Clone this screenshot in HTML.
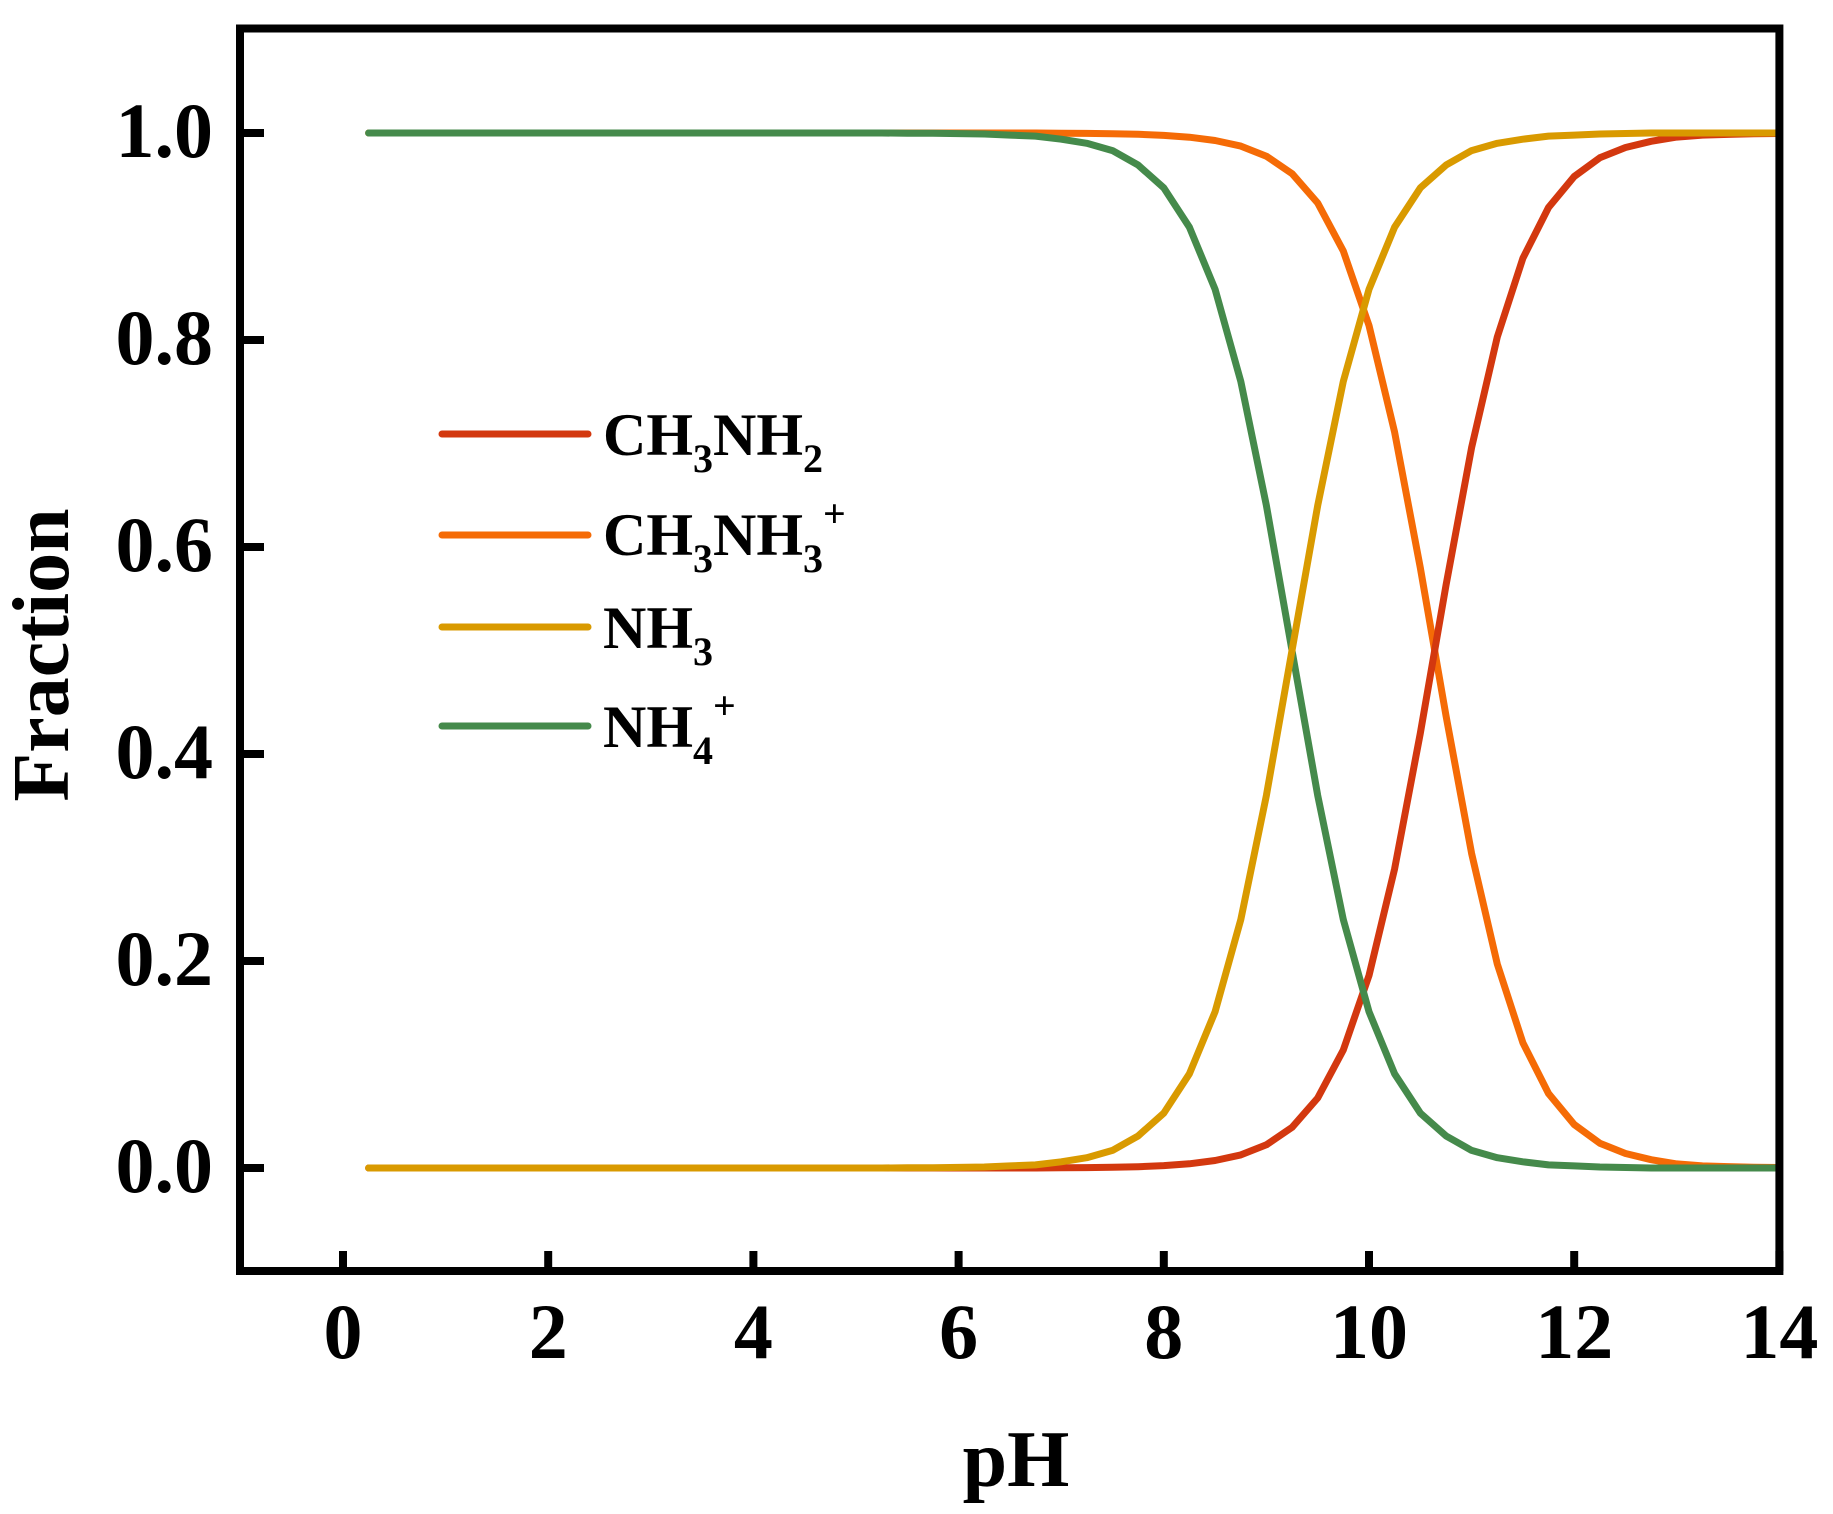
<!DOCTYPE html>
<html><head><meta charset="utf-8"><style>
html,body{margin:0;padding:0;background:#fff}
svg{display:block}
text{font-family:"Liberation Serif","Times New Roman",serif;font-weight:bold;fill:#000}
</style></head><body>
<svg id="chart" width="1833" height="1514" viewBox="0 0 1833 1514" xmlns="http://www.w3.org/2000/svg">
<g id="series"></g>
<g id="axes"></g>
<g id="legend">
  <line x1="442" y1="434" x2="588" y2="434" stroke="#d3380f" stroke-width="7" stroke-linecap="round"/>
  <text x="603" y="455" font-size="60">CH<tspan font-size="40" dy="17">3</tspan><tspan dy="-17">NH</tspan><tspan font-size="40" dy="17">2</tspan></text>
  <line x1="442" y1="535" x2="588" y2="535" stroke="#f56b06" stroke-width="7" stroke-linecap="round"/>
  <text x="603" y="555" font-size="60">CH<tspan font-size="40" dy="17">3</tspan><tspan dy="-17">NH</tspan><tspan font-size="40" dy="17">3</tspan><tspan font-size="40" dy="-45">+</tspan></text>
  <line x1="442" y1="627" x2="588" y2="627" stroke="#d99a00" stroke-width="7" stroke-linecap="round"/>
  <text x="603" y="648" font-size="60">NH<tspan font-size="40" dy="17">3</tspan></text>
  <line x1="442" y1="726" x2="588" y2="726" stroke="#458a4b" stroke-width="7" stroke-linecap="round"/>
  <text x="603" y="747" font-size="60">NH<tspan font-size="40" dy="17">4</tspan><tspan font-size="40" dy="-45">+</tspan></text>
</g>
<text font-size="80" text-anchor="middle" transform="translate(68,655) rotate(-90)">Fraction</text>
<text font-size="80" text-anchor="middle" x="1016" y="1486">pH</text>
</svg>
<script>
const pH = [0.25,0.5,0.75,1,1.25,1.5,1.75,2,2.25,2.5,2.75,3,3.25,3.5,3.75,4,4.25,4.5,4.75,5,5.25,5.5,5.75,6,6.25,6.5,6.75,7,7.25,7.5,7.75,8,8.25,8.5,8.75,9,9.25,9.5,9.75,10,10.25,10.5,10.75,11,11.25,11.5,11.75,12,12.25,12.5,12.75,13,13.25,13.5,13.75,14];
const nh3 = [0,0,0,0,0,0,0,0,0,0,0,0,0,0,0,0,0,0,0,0,0,0.0002,0.0003,0.0006,0.001,0.002,0.003,0.006,0.01,0.017,0.031,0.053,0.091,0.151,0.24,0.36,0.5,0.64,0.76,0.849,0.909,0.947,0.969,0.983,0.99,0.994,0.997,0.998,0.999,0.9995,1,1,1,1,1,1];
const nh4 = [1,1,1,1,1,1,1,1,1,1,1,1,1,1,1,1,1,1,1,1,1,0.9998,0.9997,0.9994,0.999,0.998,0.997,0.994,0.99,0.983,0.969,0.947,0.909,0.849,0.76,0.64,0.5,0.36,0.24,0.151,0.091,0.053,0.031,0.017,0.01,0.006,0.003,0.002,0.001,0.0005,0,0,0,0,0,0];
const ch3nh2 = [0,0,0,0,0,0,0,0,0,0,0,0,0,0,0,0,0,0,0,0,0,0,0,0,0,0,0,0.0002,0.0004,0.0007,0.0013,0.0023,0.0041,0.0072,0.0127,0.0224,0.0392,0.0676,0.114,0.186,0.289,0.42,0.563,0.696,0.803,0.879,0.928,0.958,0.976,0.986,0.992,0.996,0.998,0.9986,0.9992,0.9995];
const ch3nh3 = [1,1,1,1,1,1,1,1,1,1,1,1,1,1,1,1,1,1,1,1,1,1,1,1,1,1,1,0.9998,0.9996,0.9993,0.9987,0.9977,0.9959,0.9928,0.9873,0.9776,0.9608,0.9324,0.886,0.814,0.711,0.58,0.437,0.304,0.197,0.121,0.072,0.042,0.024,0.014,0.008,0.004,0.002,0.0014,0.0008,0.0005];
const xTicks = [0,2,4,6,8,10,12,14];
const yTicks = [0,0.2,0.4,0.6,0.8,1.0];
const yTickLabels = ["0.0","0.2","0.4","0.6","0.8","1.0"];

const NS = "http://www.w3.org/2000/svg";
const X0 = 343, XU = 102.6, Y0 = 1168, YU = 1035;
function xs(v){ return X0 + v*XU; }
function ys(v){ return Y0 - v*YU; }
function mk(tag, attrs, parent){ const e=document.createElementNS(NS,tag); for(const k in attrs) e.setAttribute(k,attrs[k]); parent.appendChild(e); return e; }

const series = document.getElementById('series');
const defs = [
  {name:'line-ch3nh3', data:ch3nh3, color:'#f56b06'},
  {name:'line-ch3nh2', data:ch3nh2, color:'#d3380f'},
  {name:'line-nh4', data:nh4, color:'#458a4b'},
  {name:'line-nh3', data:nh3, color:'#d99a00'}
];
defs.forEach(s=>{
  const d = s.data.map((v,i)=>(i?'L':'M')+xs(pH[i]).toFixed(1)+' '+ys(v).toFixed(1)).join(' ');
  const p = mk('path',{d:d,fill:'none',stroke:s.color,'stroke-width':7,'stroke-linecap':'round','stroke-linejoin':'round'},series);
  
  
});

const axes = document.getElementById('axes');
const frame = mk('rect',{x:240,y:28.5,width:xs(14)-240,height:1271-28.5,fill:'none',stroke:'#000','stroke-width':8},axes);


xTicks.forEach(t=>{
  const l = mk('line',{x1:xs(t),x2:xs(t),y1:1271,y2:1251,stroke:'#000','stroke-width':8},axes);
  
  
  const tx = mk('text',{x:xs(t),y:1358,'font-size':78,'text-anchor':'middle'},axes);
  tx.textContent = String(t);
  
  
});
yTicks.forEach((t,i)=>{
  const l = mk('line',{x1:240,x2:264,y1:ys(t),y2:ys(t),stroke:'#000','stroke-width':8},axes);
  
  
  const tx = mk('text',{x:213,y:ys(t)+24,'font-size':78,'text-anchor':'end'},axes);
  tx.textContent = yTickLabels[i];
  
  
});
</script>
</body></html>
